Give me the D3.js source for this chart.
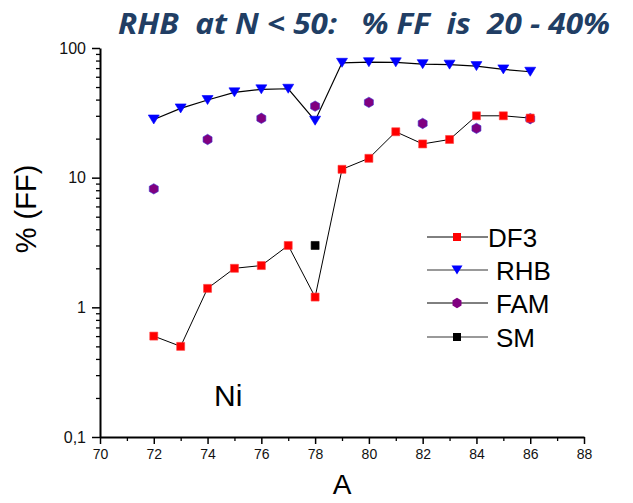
<html>
<head>
<script src="https://cdn.jsdelivr.net/npm/d3@7"></script>
<style>
  body { margin: 0; background: white; }
  text { font-family: "Liberation Sans", Arial, sans-serif; }
</style>
</head>
<body>
<svg id="chart" width="633" height="503"></svg>
<script>
// data
const massNumbers = [72, 73, 74, 75, 76, 77, 78, 79, 80, 81, 82, 83, 84, 85, 86];
const df3Values = [0.6, 0.5, 1.4, 2.0, 2.1, 3.0, 1.2, 11.6, 14.1, 22.6, 18.2, 19.7, 30.0, 30.0, 28.8];
const rhbValues = [28.1, 34.2, 39.7, 45.5, 48.0, 48.5, 27.5, 76.9, 77.7, 77.5, 75.1, 74.4, 72.5, 68.4, 65.6];
const famMass = [72, 74, 76, 78, 80, 82, 84, 86];
const famValues = [8.2, 19.7, 28.7, 35.6, 38.1, 26.2, 24.0, 28.5];
const smMass = [78];
const smValues = [3.0];
const xMajorTicks = [70, 72, 74, 76, 78, 80, 82, 84, 86, 88];
const yMajorTicks = [0.1, 1, 10, 100];
const yTickLabels = ["0,1", "1", "10", "100"];
const seriesNames = ["DF3", "RHB", "FAM", "SM"];

const svg = d3.select("#chart");

const x = d3.scaleLinear().domain([70, 88]).range([100, 584]);
const y = d3.scaleLog().domain([0.1, 100]).range([437, 48]);

// title
svg.append("text")
    .attr("x", 118).attr("y", 34)
    .attr("textLength", 492).attr("lengthAdjust", "spacingAndGlyphs")
    .style("font-family", "'Open Sans', sans-serif")
    .style("font-weight", "bold").style("font-style", "italic")
    .style("font-size", "29px").style("white-space", "pre")
    .attr("fill", "#213e64")
    .text("RHB  at N < 50:   % FF  is  20 - 40%");

// y axis
const yMinor = [];
for (let d = 0.1; d < 100; d *= 10) {
    for (let k = 2; k <= 9; k++) yMinor.push(+(d * k).toPrecision(3));
}
svg.append("g")
    .attr("transform", "translate(100,0)")
    .call(d3.axisLeft(y).tickValues(yMinor).tickSize(4).tickFormat(""))
    .call(g => g.select(".domain").remove())
    .call(g => g.selectAll("line").attr("stroke-width", 1.3));
const yAxis = svg.append("g")
    .attr("transform", "translate(100,0)")
    .call(d3.axisLeft(y).tickValues(yMajorTicks).tickSize(8).tickSizeOuter(0)
        .tickPadding(6).tickFormat((d, i) => yTickLabels[i]));
yAxis.select(".domain").attr("stroke-width", 2);
yAxis.selectAll("line").attr("stroke-width", 1.5);
yAxis.selectAll("text").style("font-size", "16px").attr("fill", "#111");

// x axis
const xMinor = d3.range(71, 88, 2);
svg.append("g")
    .attr("transform", "translate(0,437)")
    .call(d3.axisBottom(x).tickValues(xMinor).tickSize(4).tickFormat(""))
    .call(g => g.select(".domain").remove())
    .call(g => g.selectAll("line").attr("stroke-width", 1.3));
const xAxis = svg.append("g")
    .attr("transform", "translate(0,437)")
    .call(d3.axisBottom(x).tickValues(xMajorTicks).tickSize(7).tickSizeOuter(0).tickPadding(5));
xAxis.select(".domain").attr("stroke-width", 2);
xAxis.selectAll("line").attr("stroke-width", 1.5);
xAxis.selectAll("text").style("font-size", "14px").attr("fill", "#111");

// axis titles
svg.append("text")
    .attr("x", 342).attr("y", 494)
    .attr("text-anchor", "middle")
    .style("font-size", "28px")
    .text("A");
svg.append("text")
    .attr("transform", "translate(36,209) rotate(-90)")
    .attr("text-anchor", "middle")
    .style("font-size", "29px")
    .text("% (FF)");

svg.append("text")
    .attr("x", 214).attr("y", 406)
    .style("font-size", "30px")
    .text("Ni");

// markers
const squarePath = "M-4,-4H4V4H-4Z";
const trianglePath = "M-5.5,-4.5L5.5,-4.5L0,4.5Z";
const hexPath = d3.range(6).map(i => {
    const a = Math.PI / 2 + i * Math.PI / 3;
    return [5.2 * Math.cos(a), 5.2 * Math.sin(a)];
}).map((p, i) => (i ? "L" : "M") + p[0].toFixed(2) + "," + p[1].toFixed(2)).join("") + "Z";

const line = d3.line().x(d => x(d[0])).y(d => y(d[1]));

const df3Points = massNumbers.map((m, i) => [m, df3Values[i]]);
const rhbPoints = massNumbers.map((m, i) => [m, rhbValues[i]]);
const famPoints = famMass.map((m, i) => [m, famValues[i]]);
const smPoints = smMass.map((m, i) => [m, smValues[i]]);

svg.append("path").datum(df3Points).attr("d", line)
    .attr("fill", "none").attr("stroke", "#000").attr("stroke-width", 1);
svg.append("path").datum(rhbPoints).attr("d", line)
    .attr("fill", "none").attr("stroke", "#000").attr("stroke-width", 1.2);

function drawMarkers(points, path, fill, stroke) {
    svg.append("g").selectAll("path")
        .data(points)
        .join("path")
        .attr("transform", d => `translate(${x(d[0])},${y(d[1])})`)
        .attr("d", path)
        .attr("fill", fill)
        .attr("stroke", stroke)
        .attr("stroke-width", 0.6);
}
drawMarkers(rhbPoints, trianglePath, "#0000ff", "#0000ff");
drawMarkers(famPoints, hexPath, "#800080", "#3a2fd0");
drawMarkers(df3Points, squarePath, "#ff0000", "#ff4040");
drawMarkers(smPoints, squarePath, "#000", "#000");

// legend
const legendY = [237, 270, 303, 337];
const legendTextX = [488, 496, 496, 496];
const legendLineColor = ["#000", "#777", "#000", "#777"];
const legendLineWidth = [1, 1.6, 1, 1.6];
const legendMarks = [[squarePath, "#ff0000"], [trianglePath, "#0000ff"], [hexPath, "#800080"], [squarePath, "#000"]];
const legend = svg.append("g");
seriesNames.forEach((name, i) => {
    legend.append("line")
        .attr("x1", 427).attr("x2", 488)
        .attr("y1", legendY[i]).attr("y2", legendY[i])
        .attr("stroke", legendLineColor[i]).attr("stroke-width", legendLineWidth[i]);
    legend.append("path")
        .attr("transform", `translate(457,${legendY[i]})`)
        .attr("d", legendMarks[i][0])
        .attr("fill", legendMarks[i][1]);
    legend.append("text")
        .attr("x", legendTextX[i]).attr("y", legendY[i] + 10)
        .style("font-size", "26px")
        .text(name);
});
</script>
</body>
</html>
